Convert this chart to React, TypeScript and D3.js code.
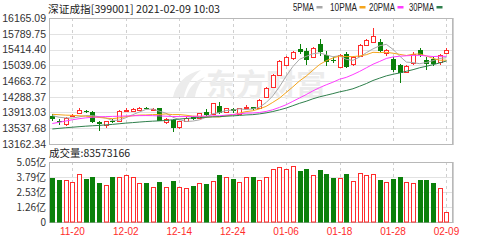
import React from "react";
import * as d3 from "d3";

const dates = ["11-17","11-18","11-19","11-20","11-23","11-24","11-25","11-26","11-27","11-30","12-01","12-02","12-03","12-04","12-07","12-08","12-09","12-10","12-11","12-14","12-15","12-16","12-17","12-18","12-21","12-22","12-23","12-24","12-25","12-28","12-29","12-30","12-31","01-04","01-05","01-06","01-07","01-08","01-11","01-12","01-13","01-14","01-15","01-18","01-19","01-20","01-21","01-22","01-25","01-26","01-27","01-28","01-29","02-01","02-02","02-03","02-04","02-05","02-08","02-09"];
const opens = [13837,13722,13632,13818,13894,13956,13932,13675,13615,13711,13699,13949,13949,13961,14028,13997,14013,13687,13734,13556,13718,13813,13775,13932,13870,14068,13932,14008,13877,14025,14037,14013,14275,14528,14795,15045,15200,15438,15379,15236,15546,15283,15176,14997,15307,15057,15248,15522,15600,15605,15324,15188,15045,14885,15081,15403,15176,15188,15124,15331];
const highs = [13877,13770,13806,13877,14032,13973,13949,13710,13722,13758,13973,14020,14020,14044,14056,14032,14032,13782,13770,13722,13818,13830,13913,13985,14151,14170,14032,14032,14032,14092,14056,14235,14509,14831,15164,15271,15379,15557,15450,15474,15653,15379,15236,15319,15355,15260,15546,15665,15920,15665,15438,15236,15069,15045,15343,15462,15236,15224,15319,15450];
const lows = [13710,13627,13603,13806,13877,13901,13663,13472,13551,13651,13687,13925,13925,13949,13985,13973,13699,13639,13448,13520,13687,13734,13758,13830,13854,13889,13913,13913,13854,13997,13973,13997,14259,14509,14771,15021,15176,15307,15045,15212,15260,15021,15093,14962,14974,15021,15224,15498,15581,15355,15260,14878,14616,14854,15045,15236,14926,15033,15045,15307];
const closes = [13758,13680,13775,13853,13973,13918,13675,13639,13699,13687,13949,13973,13985,14020,13997,14006,13718,13751,13544,13699,13789,13758,13894,13854,14132,13908,14013,13937,14013,14044,13989,14211,14490,14807,15140,15243,15355,15355,15164,15443,15355,15117,15129,15283,15009,15236,15522,15641,15736,15379,15414,14914,14843,15021,15319,15283,15057,15069,15283,15403];
// volume in 亿
const volumes = [3.70,3.53,3.53,3.34,4.04,3.62,3.76,3.26,3.11,3.76,3.76,3.93,3.76,3.26,3.26,2.97,3.39,2.97,3.48,2.95,2.84,3.03,3.31,3.17,3.45,3.93,3.76,3.59,3.39,3.76,3.76,3.53,3.76,4.44,4.65,4.44,4.71,4.29,4.44,3.93,4.38,4.01,3.70,3.70,4.01,3.45,4.10,3.96,4.04,3.53,3.39,3.62,3.76,3.39,3.31,3.53,3.53,3.26,2.86,0.8357];
const ma5 = [13840,13800,13785,13780,13808,13840,13839,13812,13781,13724,13730,13789,13859,13923,13985,13996,13945,13898,13803,13744,13700,13708,13737,13799,13885,13909,13960,13969,14001,13983,13999,14039,14149,14308,14527,14778,15007,15180,15251,15312,15334,15287,15242,15265,15179,15155,15236,15338,15429,15503,15538,15417,15257,15114,15102,15076,15105,15150,15202,15219];
const ma10 = [13870,13860,13850,13845,13835,13825,13810,13795,13780,13766,13785,13814,13835,13852,13854,13863,13867,13879,13863,13864,13848,13827,13818,13801,13815,13805,13834,13853,13900,13934,13954,14000,14059,14154,14255,14389,14523,14665,14780,14920,15056,15147,15211,15258,15245,15245,15261,15290,15347,15341,15347,15326,15298,15272,15303,15307,15261,15204,15158,15161];
const ma20 = [13650,13680,13710,13740,13765,13785,13800,13810,13815,13820,13825,13830,13835,13838,13840,13838,13832,13825,13818,13815,13817,13820,13826,13826,13834,13834,13851,13866,13881,13899,13901,13913,13938,13978,14035,14097,14179,14259,14340,14427,14505,14573,14635,14706,14750,14817,14892,14977,15063,15130,15201,15237,15254,15265,15274,15276,15261,15247,15253,15251];
const ma30 = [13520,13535,13550,13562,13575,13587,13597,13605,13618,13630,13645,13660,13672,13685,13697,13706,13714,13722,13740,13757,13770,13782,13792,13800,13808,13815,13825,13833,13843,13855,13862,13880,13904,13936,13975,14019,14075,14132,14181,14239,14286,14324,14363,14405,14438,14479,14539,14602,14676,14732,14786,14824,14856,14895,14934,14980,15015,15053,15095,15140];

const priceTickLabels = ["16165.09","15789.75","15414.40","15039.06","14663.72","14288.37","13913.03","13537.68","13162.34"];
const volTickValues = [5.05, 3.79, 2.53, 1.26, 0];
const volTickLabels = ["5.05亿", "3.79亿", "2.53亿", "1.26亿", "0"];
const xTickLabels = ["11-20","12-02","12-14","12-24","01-06","01-18","01-28","02-09"];
const maNames = ["5PMA", "10PMA", "20PMA", "30PMA"];
const maColors = ["#a8a8a8", "#f5a51c", "#ff3cff", "#2f7f4c"];
const titleText = "深证成指[399001] 2021-02-09 10:03";
const volumeText = "成交量:83573166";

const RED = "#ff2b2b";
const GREEN = "#0a800a";
const NUM_FONT = "'Liberation Sans', Arial, sans-serif";
const CJK_FONT = "'Noto Sans CJK SC', 'Liberation Sans', sans-serif";

export default function App() {
  const left = 49, right = 453;
  const mainTop = 18, mainBottom = 144;
  const volTop = 162, volBottom = 222;

  const x = d3.scalePoint<string>().domain(dates).range([52.34, 446.46]);
  const y = d3.scaleLinear().domain([13162.34, 16165.09]).range([mainBottom, mainTop]);
  const yv = d3.scaleLinear().domain([0, 5.05]).range([volBottom, volTop]);

  const cx = (i: number) => Math.round(x(dates[i]) as number);
  const px = (v: number) => Math.round(v) + 0.5;

  const maSeries = [ma5, ma10, ma20, ma30];
  const line = d3.line<number>().x((_, i) => x(dates[i]) as number).y((d) => y(d));

  const legendX = [293, 330, 369, 409];
  const legendW = [21, 27, 26, 25];

  return (
    <svg width={502} height={240} style={{ position: "absolute", left: 0, top: 0, background: "#fff" }}>
      <rect x={0} y={0} width={502} height={240} fill="#fff" />
      {/* title */}
      <text x={48} y={12.5} fontFamily={CJK_FONT} fontSize={10.5} fill="#222" textLength={172} lengthAdjust="spacingAndGlyphs">{titleText}</text>
      {/* legend */}
      {maNames.map((n, k) => (
        <g key={n}>
          <text x={legendX[k]} y={11} fontFamily={NUM_FONT} fontSize={10} fill="#222" textLength={legendW[k]} lengthAdjust="spacingAndGlyphs">{n}</text>
          <rect x={legendX[k] + legendW[k] + 2.5} y={6} width={6} height={2.5} fill={maColors[k]} />
        </g>
      ))}

      {/* main grid */}
      {priceTickLabels.map((t) => (
        <line key={"g" + t} x1={left} x2={right} y1={px(y(+t))} y2={px(y(+t))} stroke="#e2e2e2" />
      ))}
      {volTickValues.map((v) => (
        <line key={"vg" + v} x1={left} x2={right} y1={px(yv(v))} y2={px(yv(v))} stroke="#e2e2e2" />
      ))}
      {xTickLabels.map((d) => (
        <g key={"vx" + d}>
          <line x1={px(x(d) as number)} x2={px(x(d) as number)} y1={mainTop} y2={mainBottom} stroke="#cfcfcf" strokeDasharray="3,3" />
          <line x1={px(x(d) as number)} x2={px(x(d) as number)} y1={volTop} y2={volBottom} stroke="#cfcfcf" strokeDasharray="3,3" />
        </g>
      ))}

      {/* watermark */}
      <g fill="#ececec">
        <path d="M173 97 C176 84 185 74 201 70 C192 77 186 86 184 97 Z" />
        <path d="M186 97 C189 87 196 80 205 77 C199 83 196 90 195 97 Z" />
        <text x={206} y={95} fontFamily={CJK_FONT} fontWeight={700} fontSize={30}>东方财富</text>
      </g>

      {/* frames */}
      <rect x={left + 0.5} y={mainTop + 0.5} width={right - left - 1} height={mainBottom - mainTop} fill="none" stroke="#b8b8b8" />
      <rect x={left + 0.5} y={volTop + 0.5} width={right - left - 1} height={volBottom - volTop} fill="none" stroke="#b8b8b8" />
      <line x1={right + 0.5} x2={right + 0.5} y1={mainTop} y2={mainBottom + 1} stroke="#d0d0d0" />
      <line x1={right + 0.5} x2={right + 0.5} y1={volTop} y2={volBottom + 1} stroke="#d0d0d0" />

      {/* candles */}
      {dates.map((d, i) => {
        const c = cx(i);
        const up = closes[i] >= opens[i];
        const yTop = Math.round(y(Math.max(opens[i], closes[i])));
        const yBot = Math.round(y(Math.min(opens[i], closes[i])));
        const yH = Math.round(y(highs[i]));
        const yL = Math.round(y(lows[i]));
        const col = up ? RED : GREEN;
        if (up) {
          return (
            <g key={"c" + d}>
              <line x1={c + 0.5} x2={c + 0.5} y1={yH} y2={yTop} stroke={col} />
              <line x1={c + 0.5} x2={c + 0.5} y1={Math.max(yBot, yTop + 1)} y2={yL} stroke={col} />
              <rect x={c - 1.5} y={yTop + 0.5} width={4} height={Math.max(1, yBot - yTop)} fill="#fff" stroke={col} />
            </g>
          );
        }
        return (
          <g key={"c" + d}>
            <line x1={c + 0.5} x2={c + 0.5} y1={yH} y2={yL} stroke={col} />
            <rect x={c - 2} y={yTop} width={5} height={Math.max(1, yBot - yTop)} fill={col} />
          </g>
        );
      })}

      {/* moving averages */}
      {maSeries.map((s, k) => (
        <path key={"ma" + k} d={line(s) as string} fill="none" stroke={maColors[k]} strokeWidth={1} />
      ))}

      {/* volume bars */}
      {dates.map((d, i) => {
        const c = cx(i);
        const up = closes[i] >= opens[i];
        const yT = Math.round(yv(volumes[i]));
        if (up) {
          return <rect key={"v" + d} x={c - 1.5} y={yT + 0.5} width={4} height={volBottom - yT - 0.5} fill="#fff" stroke={RED} />;
        }
        return <rect key={"v" + d} x={c - 2} y={yT} width={5} height={volBottom - yT + 0.5} fill={GREEN} />;
      })}

      {/* price axis labels */}
      {priceTickLabels.map((t) => (
        <text key={"pl" + t} x={46} y={y(+t)} dy="0.36em" textAnchor="end" fontFamily={NUM_FONT} fontSize={10.5} fill="#333">{t}</text>
      ))}
      {/* volume label */}
      <text x={49} y={156.5} fontFamily={CJK_FONT} fontSize={10.5} fill="#222">{volumeText}</text>
      {volTickValues.map((v, k) => (
        <text key={"vl" + v} x={46} y={yv(v)} dy="0.36em" textAnchor="end" fontFamily={CJK_FONT} fontSize={10} fill="#333">{volTickLabels[k]}</text>
      ))}
      {/* x axis labels */}
      {xTickLabels.map((d) => (
        <text key={"xl" + d} x={x(d) as number} y={235} textAnchor="middle" fontFamily={NUM_FONT} fontSize={10} fill={RED}>{d}</text>
      ))}
    </svg>
  );
}
